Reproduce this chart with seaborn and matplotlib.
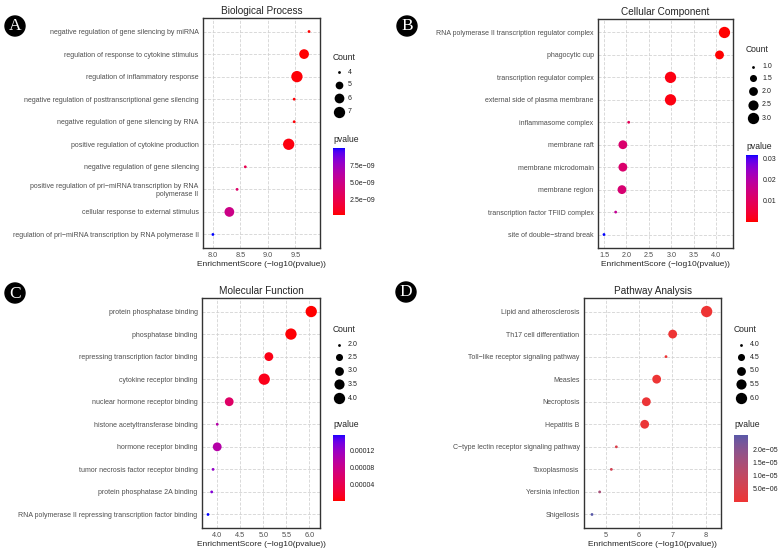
import numpy as np
import pandas as pd
import matplotlib
matplotlib.use('Agg')
import matplotlib.pyplot as plt
import seaborn as sns
from matplotlib.colors import ListedColormap, Normalize
from matplotlib.cm import ScalarMappable

# ---- data ----
bp_terms = ['negative regulation of gene silencing by miRNA',
            'regulation of response to cytokine stimulus',
            'regulation of inflammatory response',
            'negative regulation of posttranscriptional gene silencing',
            'negative regulation of gene silencing by RNA',
            'positive regulation of cytokine production',
            'negative regulation of gene silencing',
            'positive regulation of pri\u2212miRNA transcription by RNA\npolymerase II',
            'cellular response to external stimulus',
            'regulation of pri\u2212miRNA transcription by RNA polymerase II']
bp_score = [9.75, 9.66, 9.53, 9.48, 9.48, 9.38, 8.59, 8.44, 8.30, 8.00]
bp_count = [4, 6, 7, 4, 4, 7, 4, 4, 6, 4]
bp_pvalue = [1.8e-10, 2.2e-10, 3.0e-10, 3.3e-10, 3.3e-10, 4.2e-10, 2.6e-9, 3.6e-9, 5.0e-9, 1.0e-8]

cc_terms = ['RNA polymerase II transcription regulator complex', 'phagocytic cup',
            'transcription regulator complex', 'external side of plasma membrane',
            'inflammasome complex', 'membrane raft', 'membrane microdomain',
            'membrane region', 'transcription factor TFIID complex',
            'site of double\u2212strand break']
cc_score = [4.18, 4.07, 2.98, 2.98, 2.05, 1.92, 1.92, 1.90, 1.76, 1.50]
cc_count = [3, 2, 3, 3, 1, 2, 2, 2, 1, 1]
cc_pvalue = [6.6e-5, 8.5e-5, 0.00105, 0.00105, 0.0089, 0.012, 0.012, 0.0126, 0.0174, 0.0316]

mf_terms = ['protein phosphatase binding', 'phosphatase binding',
            'repressing transcription factor binding', 'cytokine receptor binding',
            'nuclear hormone receptor binding', 'histone acetyltransferase binding',
            'hormone receptor binding', 'tumor necrosis factor receptor binding',
            'protein phosphatase 2A binding',
            'RNA polymerase II repressing transcription factor binding']
mf_score = [6.04, 5.60, 5.12, 5.02, 4.26, 4.00, 4.00, 3.91, 3.88, 3.80]
mf_count = [4, 4, 3, 4, 3, 2, 3, 2, 2, 2]
mf_pvalue = [9.1e-7, 2.5e-6, 7.6e-6, 9.5e-6, 5.5e-5, 1.0e-4, 1.0e-4, 1.23e-4, 1.32e-4, 1.58e-4]

kegg_terms = ['Lipid and atherosclerosis', 'Th17 cell differentiation',
              'Toll\u2212like receptor signaling pathway', 'Measles', 'Necroptosis',
              'Hepatitis B', 'C\u2212type lectin receptor signaling pathway',
              'Toxoplasmosis', 'Yersinia infection', 'Shigellosis']
kegg_score = [8.03, 7.01, 6.81, 6.53, 6.22, 6.17, 5.32, 5.17, 4.82, 4.59]
kegg_count = [6, 5, 4, 5, 5, 5, 4, 4, 4, 4]
kegg_pvalue = [9.3e-9, 9.8e-8, 1.55e-7, 2.95e-7, 6.0e-7, 6.8e-7, 4.8e-6, 6.8e-6, 1.5e-5, 2.57e-5]

bp_xticks = [8.0, 8.5, 9.0, 9.5]
cc_xticks = [1.5, 2.0, 2.5, 3.0, 3.5, 4.0]
mf_xticks = [4.0, 4.5, 5.0, 5.5, 6.0]
kegg_xticks = [5, 6, 7, 8]

bp_size_breaks = [4, 5, 6, 7]
cc_size_breaks = [1.0, 1.5, 2.0, 2.5, 3.0]
mf_size_breaks = [2.0, 2.5, 3.0, 3.5, 4.0]
kegg_size_breaks = [4.0, 4.5, 5.0, 5.5, 6.0]

bp_p_ticks = [2.5e-9, 5.0e-9, 7.5e-9]
bp_p_labels = ['2.5e\u221209', '5.0e\u221209', '7.5e\u221209']
cc_p_ticks = [0.01, 0.02, 0.03]
cc_p_labels = ['0.01', '0.02', '0.03']
mf_p_ticks = [4e-5, 8e-5, 1.2e-4]
mf_p_labels = ['0.00004', '0.00008', '0.00012']
kegg_p_ticks = [5e-6, 1e-5, 1.5e-5, 2e-5]
kegg_p_labels = ['5.0e\u221206', '1.0e\u221205', '1.5e\u221205', '2.0e\u221205']

# ---- style ----
sns.set_style('white')
plt.rcParams['font.family'] = ['Liberation Sans', 'DejaVu Sans']

W, H = 780, 558
fig = plt.figure(figsize=(W / 100, H / 100), dpi=100)


def px_rect(left, top, right, bottom):
    return [left / W, 1 - bottom / H, (right - left) / W, (bottom - top) / H]


def srgb_to_lab(c):
    c = np.asarray(c, float)
    lin = np.where(c <= 0.04045, c / 12.92, ((c + 0.055) / 1.055) ** 2.4)
    M = np.array([[0.4124, 0.3576, 0.1805], [0.2126, 0.7152, 0.0722], [0.0193, 0.1192, 0.9505]])
    xyz = M @ lin / np.array([0.95047, 1.0, 1.08883])
    f = np.where(xyz > 0.008856, np.cbrt(xyz), 7.787 * xyz + 16 / 116)
    return np.array([116 * f[1] - 16, 500 * (f[0] - f[1]), 200 * (f[1] - f[2])])


def lab_to_srgb(lab):
    L, a, b = lab
    fy = (L + 16) / 116
    f = np.array([fy + a / 500, fy, fy - b / 200])
    xyz = np.where(f ** 3 > 0.008856, f ** 3, (f - 16 / 116) / 7.787) * np.array([0.95047, 1.0, 1.08883])
    Minv = np.array([[3.2406, -1.5372, -0.4986], [-0.9689, 1.8758, 0.0415], [0.0557, -0.2040, 1.0570]])
    lin = np.clip(Minv @ xyz, 0, 1)
    c = np.where(lin <= 0.0031308, 12.92 * lin, 1.055 * lin ** (1 / 2.4) - 0.055)
    return np.clip(c, 0, 1)


def lab_ramp(low, high, n=256):
    # ggplot-style gradient, interpolated in CIELAB
    l1 = srgb_to_lab(matplotlib.colors.to_rgb(low))
    l2 = srgb_to_lab(matplotlib.colors.to_rgb(high))
    return ListedColormap([lab_to_srgb(l1 + (l2 - l1) * t) for t in np.linspace(0, 1, n)])


def gg_area(count, cmin, cmax):
    # scale_size(range = c(1, 6)) -> marker area in pt^2
    t = (np.asarray(count, float) - cmin) / (cmax - cmin)
    size = 1 + 5 * np.sqrt(np.clip(t, 0, 1))
    d_px = 1.1 + 1.7 * size
    return (d_px * 0.72) ** 2


panels = [
    dict(title='Biological Process', letter='A', terms=bp_terms, score=bp_score, count=bp_count,
         pvalue=bp_pvalue, xticks=bp_xticks, xlim=(7.82, 9.95), rect=(203, 18, 320, 248),
         cmap=lab_ramp('#FF0000', '#0000FF'), breaks=bp_size_breaks, pt=bp_p_ticks, pl=bp_p_labels,
         circ=(15, 26), leg_x=333, cnt_y=57, key_y=[72, 85, 98.3, 111.7], dot_x=339, lab_x=348,
         pv_y=139, bar=(333, 148, 345, 215)),
    dict(title='Cellular Component', letter='B', terms=cc_terms, score=cc_score, count=cc_count,
         pvalue=cc_pvalue, xticks=cc_xticks, xlim=(1.367, 4.37), rect=(598, 19, 733, 248),
         cmap=lab_ramp('#FF0000', '#0000FF'), breaks=cc_size_breaks, pt=cc_p_ticks, pl=cc_p_labels,
         circ=(407, 26), leg_x=746, cnt_y=50, key_y=[66.7, 78.3, 91.3, 105, 118.3], dot_x=753,
         lab_x=762, pv_y=146.5, bar=(746, 155, 758, 221.7)),
    dict(title='Molecular Function', letter='C', terms=mf_terms, score=mf_score, count=mf_count,
         pvalue=mf_pvalue, xticks=mf_xticks, xlim=(3.67, 6.23), rect=(202, 298, 320, 528),
         cmap=lab_ramp('#FF0000', '#0000FF'), breaks=mf_size_breaks, pt=mf_p_ticks, pl=mf_p_labels,
         circ=(15, 293), leg_x=333, cnt_y=329.7, key_y=[344.7, 357.3, 370.7, 384, 398], dot_x=339.3,
         lab_x=348, pv_y=424.7, bar=(333, 434.7, 345, 500.7)),
    dict(title='Pathway Analysis', letter='D', terms=kegg_terms, score=kegg_score, count=kegg_count,
         pvalue=kegg_pvalue, xticks=kegg_xticks, xlim=(4.35, 8.46), rect=(584, 298, 721, 528),
         cmap=lab_ramp('#EE3434', '#5858A8'), breaks=kegg_size_breaks, pt=kegg_p_ticks, pl=kegg_p_labels,
         circ=(406, 292), leg_x=734, cnt_y=329.7, key_y=[344.7, 357.3, 370.7, 384, 398], dot_x=741,
         lab_x=750, pv_y=424.7, bar=(734, 434.7, 747.7, 502)),
]

overlay = fig.add_axes([0, 0, 1, 1], zorder=10)
overlay.set_xlim(0, W)
overlay.set_ylim(H, 0)
overlay.axis('off')
overlay.patch.set_visible(False)

for p in panels:
    ax = fig.add_axes(px_rect(*p['rect']))
    df = pd.DataFrame({'term': p['terms'], 'score': p['score'],
                       'count': p['count'], 'pvalue': p['pvalue']})
    cmin, cmax = min(p['count']), max(p['count'])
    size_map = {c: float(gg_area(c, cmin, cmax)) for c in sorted(set(p['count']))}
    norm = Normalize(min(p['pvalue']), max(p['pvalue']))
    ax.grid(True, color='#D0D0D0', linestyle=(0, (4, 2)), linewidth=0.55, zorder=0)
    ax.set_axisbelow(True)
    sns.scatterplot(data=df, x='score', y='term', hue='pvalue', palette=p['cmap'], hue_norm=norm,
                    size='count', sizes=size_map, linewidth=0, legend=False, ax=ax, zorder=3)
    ax.set_xlim(*p['xlim'])
    ax.set_ylim(len(p['terms']) - 0.4, -0.6)
    ax.set_xticks(p['xticks'])
    ax.set_xticklabels([f'{v:.1f}' if isinstance(v, float) else str(v) for v in p['xticks']])
    ax.set_ylabel('')
    ax.set_xlabel('EnrichmentScore (\u2212log10(pvalue))', fontsize=6, labelpad=1)
    ax.set_title(p['title'], fontsize=7.2, pad=3)
    ax.tick_params(axis='both', length=2, width=0.5, color='#333333', pad=1.2, labelcolor='#4D4D4D')
    ax.tick_params(axis='x', labelsize=5.2)
    ax.tick_params(axis='y', labelsize=5.0)
    for s in ax.spines.values():
        s.set_color('#333333')
        s.set_linewidth(1.0)

    # panel letter
    cx, cy = p['circ']
    overlay.add_patch(plt.Circle((cx, cy), 10, color='black'))
    overlay.text(cx, cy + 0.5, p['letter'], color='white', fontsize=12.5, ha='center', va='center',
                 family=['Liberation Serif', 'DejaVu Serif'])

    # size legend
    overlay.text(p['leg_x'], p['cnt_y'], 'Count', fontsize=6.2, ha='left', va='center')
    for b, ky in zip(p['breaks'], p['key_y']):
        overlay.scatter([p['dot_x']], [ky], s=gg_area(b, cmin, cmax), color='black', linewidths=0)
        lab = f'{b:.1f}' if isinstance(b, float) else str(b)
        overlay.text(p['lab_x'], ky, lab, fontsize=5, ha='left', va='center', color='#222222')

    # colour bar
    overlay.text(p['leg_x'], p['pv_y'], 'pvalue', fontsize=6.2, ha='left', va='center')
    bl, bt, br, bb = p['bar']
    cax = fig.add_axes(px_rect(bl, bt, br, bb))
    cb = fig.colorbar(ScalarMappable(norm=norm, cmap=p['cmap']), cax=cax)
    cb.outline.set_visible(False)
    cb.set_ticks(p['pt'])
    cb.set_ticklabels(p['pl'])
    cax.tick_params(length=2.2, width=0.6, color='white', direction='in', labelsize=5,
                    pad=3.5, labelcolor='#222222')

fig.savefig('out.png', dpi=100)
